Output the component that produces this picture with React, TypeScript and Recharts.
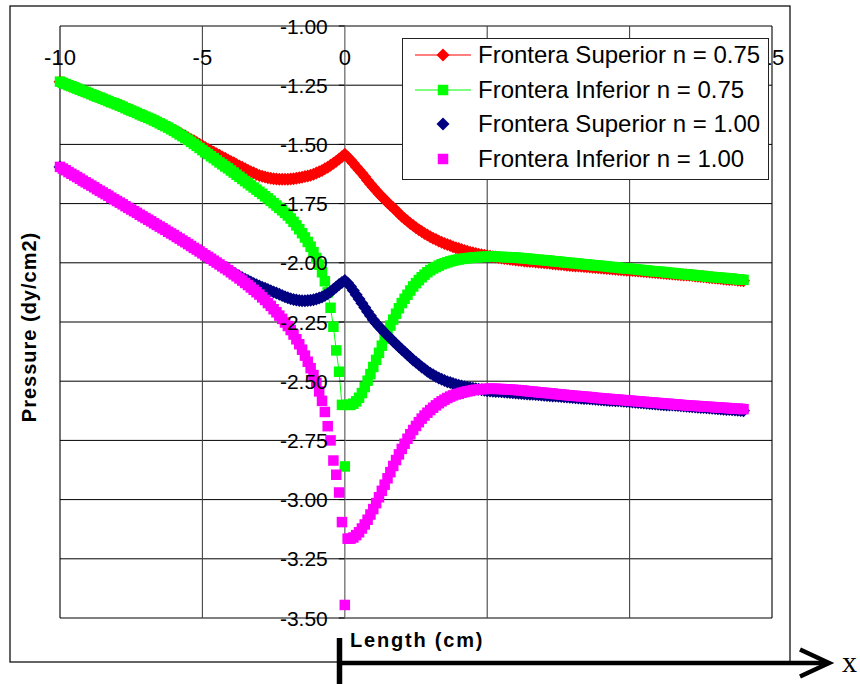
import React from 'react';
import {
  ScatterChart,
  Scatter,
  XAxis,
  YAxis,
  ReferenceLine,
  ReferenceDot,
  Legend,
} from 'recharts';

// Position along the channel (cm), one row per centimetre
const lengthCm = [
  -10, -9.9, -9.8, -9.7, -9.6, -9.5, -9.4, -9.3, -9.2, -9.1,
  -9, -8.9, -8.8, -8.7, -8.6, -8.5, -8.4, -8.3, -8.2, -8.1,
  -8, -7.9, -7.8, -7.7, -7.6, -7.5, -7.4, -7.3, -7.2, -7.1,
  -7, -6.9, -6.8, -6.7, -6.6, -6.5, -6.4, -6.3, -6.2, -6.1,
  -6, -5.9, -5.8, -5.7, -5.6, -5.5, -5.4, -5.3, -5.2, -5.1,
  -5, -4.9, -4.8, -4.7, -4.6, -4.5, -4.4, -4.3, -4.2, -4.1,
  -4, -3.9, -3.8, -3.7, -3.6, -3.5, -3.4, -3.3, -3.2, -3.1,
  -3, -2.9, -2.8, -2.7, -2.6, -2.5, -2.4, -2.3, -2.2, -2.1,
  -2, -1.9, -1.8, -1.7, -1.6, -1.5, -1.4, -1.3, -1.2, -1.1,
  -1, -0.9, -0.8, -0.7, -0.6, -0.5, -0.4, -0.3, -0.2, -0.1,
  0, 0.1, 0.2, 0.3, 0.4, 0.5, 0.6, 0.7, 0.8, 0.9,
  1, 1.1, 1.2, 1.3, 1.4, 1.5, 1.6, 1.7, 1.8, 1.9,
  2, 2.1, 2.2, 2.3, 2.4, 2.5, 2.6, 2.7, 2.8, 2.9,
  3, 3.1, 3.2, 3.3, 3.4, 3.5, 3.6, 3.7, 3.8, 3.9,
  4, 4.1, 4.2, 4.3, 4.4, 4.5, 4.6, 4.7, 4.8, 4.9,
  5, 5.1, 5.2, 5.3, 5.4, 5.5, 5.6, 5.7, 5.8, 5.9,
  6, 6.1, 6.2, 6.3, 6.4, 6.5, 6.6, 6.7, 6.8, 6.9,
  7, 7.1, 7.2, 7.3, 7.4, 7.5, 7.6, 7.7, 7.8, 7.9,
  8, 8.1, 8.2, 8.3, 8.4, 8.5, 8.6, 8.7, 8.8, 8.9,
  9, 9.1, 9.2, 9.3, 9.4, 9.5, 9.6, 9.7, 9.8, 9.9,
  10, 10.1, 10.2, 10.3, 10.4, 10.5, 10.6, 10.7, 10.8, 10.9,
  11, 11.1, 11.2, 11.3, 11.4, 11.5, 11.6, 11.7, 11.8, 11.9,
  12, 12.1, 12.2, 12.3, 12.4, 12.5, 12.6, 12.7, 12.8, 12.9,
  13, 13.1, 13.2, 13.3, 13.4, 13.5, 13.6, 13.7, 13.8, 13.9,
  14,
];

// Pressure (dy/cm2) on the upper boundary, n = 0.75
const superior075 = [
  -1.235, -1.24, -1.245, -1.25, -1.254, -1.259, -1.264, -1.269, -1.274, -1.278,
  -1.283, -1.288, -1.293, -1.298, -1.302, -1.307, -1.312, -1.317, -1.322, -1.326,
  -1.331, -1.336, -1.341, -1.347, -1.352, -1.357, -1.362, -1.367, -1.373, -1.378,
  -1.383, -1.388, -1.393, -1.399, -1.404, -1.41, -1.416, -1.422, -1.428, -1.434,
  -1.44, -1.446, -1.452, -1.459, -1.465, -1.472, -1.479, -1.485, -1.492, -1.499,
  -1.506, -1.513, -1.52, -1.527, -1.533, -1.54, -1.546, -1.553, -1.559, -1.566,
  -1.572, -1.578, -1.585, -1.591, -1.597, -1.603, -1.609, -1.615, -1.62, -1.626,
  -1.631, -1.635, -1.638, -1.641, -1.643, -1.645, -1.646, -1.647, -1.647, -1.647,
  -1.647, -1.646, -1.645, -1.643, -1.641, -1.639, -1.636, -1.633, -1.63, -1.626,
  -1.621, -1.616, -1.61, -1.603, -1.596, -1.588, -1.58, -1.571, -1.562, -1.552,
  -1.542, -1.553, -1.566, -1.58, -1.594, -1.608, -1.622, -1.637, -1.652, -1.667,
  -1.681, -1.695, -1.708, -1.721, -1.733, -1.745, -1.757, -1.768, -1.779, -1.792,
  -1.803, -1.814, -1.824, -1.834, -1.843, -1.852, -1.86, -1.868, -1.876, -1.883,
  -1.89, -1.896, -1.902, -1.908, -1.913, -1.918, -1.923, -1.927, -1.932, -1.936,
  -1.94, -1.944, -1.948, -1.951, -1.955, -1.958, -1.961, -1.964, -1.966, -1.968,
  -1.97, -1.972, -1.974, -1.976, -1.978, -1.98, -1.982, -1.983, -1.985, -1.986,
  -1.988, -1.989, -1.99, -1.992, -1.993, -1.994, -1.995, -1.997, -1.998, -1.999,
  -2.0, -2.001, -2.002, -2.004, -2.005, -2.006, -2.007, -2.008, -2.01, -2.011,
  -2.012, -2.013, -2.014, -2.015, -2.016, -2.017, -2.018, -2.019, -2.02, -2.021,
  -2.022, -2.023, -2.024, -2.025, -2.026, -2.027, -2.028, -2.029, -2.03, -2.031,
  -2.032, -2.033, -2.034, -2.035, -2.036, -2.037, -2.038, -2.039, -2.04, -2.041,
  -2.042, -2.043, -2.044, -2.045, -2.046, -2.047, -2.048, -2.049, -2.05, -2.051,
  -2.052, -2.053, -2.054, -2.056, -2.057, -2.058, -2.059, -2.06, -2.062, -2.063,
  -2.064, -2.065, -2.066, -2.068, -2.069, -2.07, -2.071, -2.072, -2.074, -2.075,
  -2.076,
];

// Pressure (dy/cm2) on the lower boundary, n = 0.75
const inferior075 = [
  -1.235, -1.24, -1.245, -1.25, -1.254, -1.259, -1.264, -1.269, -1.274, -1.278,
  -1.283, -1.288, -1.293, -1.298, -1.302, -1.307, -1.312, -1.317, -1.322, -1.326,
  -1.331, -1.336, -1.341, -1.347, -1.352, -1.357, -1.362, -1.367, -1.373, -1.378,
  -1.383, -1.388, -1.393, -1.399, -1.405, -1.411, -1.417, -1.423, -1.429, -1.436,
  -1.443, -1.45, -1.458, -1.465, -1.473, -1.481, -1.489, -1.498, -1.506, -1.515,
  -1.524, -1.533, -1.541, -1.55, -1.558, -1.567, -1.576, -1.584, -1.593, -1.601,
  -1.61, -1.619, -1.628, -1.637, -1.646, -1.655, -1.664, -1.673, -1.682, -1.691,
  -1.7, -1.709, -1.719, -1.728, -1.738, -1.748, -1.758, -1.768, -1.778, -1.789,
  -1.8, -1.813, -1.827, -1.842, -1.858, -1.875, -1.893, -1.912, -1.932, -1.955,
  -1.98, -2.008, -2.04, -2.078, -2.125, -2.19, -2.27, -2.37, -2.46, -2.6,
  -2.86, -2.6, -2.6, -2.595, -2.585, -2.57, -2.55, -2.525, -2.498, -2.47,
  -2.44, -2.41, -2.38, -2.35, -2.32, -2.292, -2.265, -2.24, -2.215, -2.192,
  -2.17, -2.152, -2.135, -2.117, -2.1, -2.086, -2.073, -2.061, -2.05, -2.04,
  -2.031, -2.024, -2.018, -2.012, -2.006, -2.002, -1.998, -1.994, -1.991, -1.988,
  -1.986, -1.984, -1.982, -1.981, -1.979, -1.978, -1.977, -1.976, -1.975, -1.975,
  -1.974, -1.974, -1.974, -1.974, -1.975, -1.975, -1.976, -1.976, -1.977, -1.977,
  -1.978, -1.979, -1.98, -1.981, -1.982, -1.983, -1.985, -1.986, -1.987, -1.988,
  -1.989, -1.99, -1.991, -1.993, -1.994, -1.995, -1.996, -1.998, -1.999, -2.0,
  -2.001, -2.002, -2.003, -2.005, -2.006, -2.007, -2.008, -2.01, -2.011, -2.012,
  -2.013, -2.014, -2.015, -2.017, -2.018, -2.019, -2.02, -2.022, -2.023, -2.024,
  -2.025, -2.026, -2.027, -2.029, -2.03, -2.031, -2.032, -2.034, -2.035, -2.036,
  -2.037, -2.038, -2.039, -2.041, -2.042, -2.043, -2.044, -2.046, -2.047, -2.048,
  -2.049, -2.05, -2.051, -2.053, -2.054, -2.055, -2.056, -2.058, -2.059, -2.06,
  -2.061, -2.062, -2.063, -2.064, -2.065, -2.066, -2.067, -2.069, -2.07, -2.071,
  -2.072,
];

// Pressure (dy/cm2) on the upper boundary, n = 1.00
const superior100 = [
  -1.595, -1.602, -1.609, -1.617, -1.624, -1.631, -1.638, -1.645, -1.653, -1.66,
  -1.667, -1.674, -1.681, -1.689, -1.696, -1.703, -1.71, -1.717, -1.725, -1.732,
  -1.739, -1.746, -1.753, -1.761, -1.768, -1.775, -1.782, -1.789, -1.797, -1.804,
  -1.811, -1.818, -1.825, -1.833, -1.84, -1.847, -1.854, -1.861, -1.869, -1.876,
  -1.883, -1.891, -1.898, -1.906, -1.913, -1.921, -1.929, -1.937, -1.944, -1.952,
  -1.96, -1.968, -1.976, -1.984, -1.991, -1.999, -2.007, -2.014, -2.022, -2.029,
  -2.036, -2.043, -2.05, -2.057, -2.063, -2.069, -2.075, -2.081, -2.087, -2.093,
  -2.098, -2.103, -2.108, -2.113, -2.118, -2.123, -2.128, -2.133, -2.138, -2.143,
  -2.148, -2.152, -2.155, -2.157, -2.159, -2.16, -2.16, -2.159, -2.158, -2.156,
  -2.153, -2.149, -2.144, -2.138, -2.131, -2.122, -2.112, -2.102, -2.092, -2.083,
  -2.075, -2.085, -2.1, -2.117, -2.135, -2.153, -2.171, -2.189, -2.207, -2.224,
  -2.24, -2.255, -2.269, -2.282, -2.295, -2.307, -2.319, -2.331, -2.343, -2.355,
  -2.366, -2.377, -2.388, -2.399, -2.41, -2.42, -2.43, -2.44, -2.449, -2.458,
  -2.466, -2.473, -2.48, -2.486, -2.492, -2.497, -2.502, -2.506, -2.51, -2.514,
  -2.517, -2.52, -2.523, -2.526, -2.528, -2.53, -2.532, -2.534, -2.536, -2.538,
  -2.54, -2.541, -2.542, -2.543, -2.544, -2.545, -2.546, -2.547, -2.548, -2.549,
  -2.55, -2.551, -2.552, -2.553, -2.554, -2.555, -2.555, -2.556, -2.557, -2.558,
  -2.559, -2.56, -2.561, -2.562, -2.563, -2.564, -2.565, -2.566, -2.567, -2.568,
  -2.569, -2.57, -2.571, -2.572, -2.573, -2.573, -2.574, -2.575, -2.576, -2.577,
  -2.578, -2.579, -2.58, -2.581, -2.582, -2.583, -2.583, -2.584, -2.585, -2.586,
  -2.587, -2.588, -2.589, -2.59, -2.591, -2.592, -2.593, -2.594, -2.595, -2.596,
  -2.597, -2.598, -2.599, -2.6, -2.601, -2.601, -2.602, -2.603, -2.604, -2.605,
  -2.606, -2.607, -2.608, -2.609, -2.61, -2.611, -2.611, -2.612, -2.613, -2.614,
  -2.615, -2.616, -2.617, -2.618, -2.619, -2.62, -2.621, -2.622, -2.623, -2.624,
  -2.625,
];

// Pressure (dy/cm2) on the lower boundary, n = 1.00
const inferior100 = [
  -1.595, -1.602, -1.609, -1.617, -1.624, -1.631, -1.638, -1.645, -1.653, -1.66,
  -1.667, -1.674, -1.681, -1.689, -1.696, -1.703, -1.71, -1.717, -1.725, -1.732,
  -1.739, -1.746, -1.753, -1.761, -1.768, -1.775, -1.782, -1.789, -1.797, -1.804,
  -1.811, -1.818, -1.825, -1.833, -1.84, -1.847, -1.854, -1.861, -1.869, -1.876,
  -1.883, -1.891, -1.898, -1.906, -1.913, -1.921, -1.929, -1.937, -1.944, -1.952,
  -1.96, -1.968, -1.975, -1.983, -1.991, -1.999, -2.007, -2.015, -2.023, -2.031,
  -2.04, -2.049, -2.057, -2.066, -2.075, -2.085, -2.094, -2.104, -2.114, -2.124,
  -2.134, -2.146, -2.157, -2.17, -2.182, -2.196, -2.209, -2.223, -2.237, -2.252,
  -2.267, -2.284, -2.303, -2.323, -2.344, -2.367, -2.392, -2.418, -2.445, -2.474,
  -2.507, -2.543, -2.583, -2.63, -2.69, -2.75, -2.835, -2.895, -2.97, -3.095,
  -3.445, -3.165, -3.165, -3.16, -3.15, -3.138, -3.122, -3.105, -3.085, -3.063,
  -3.04, -3.015, -2.99, -2.963, -2.937, -2.91, -2.884, -2.858, -2.833, -2.809,
  -2.786, -2.764, -2.743, -2.724, -2.706, -2.689, -2.673, -2.658, -2.645, -2.633,
  -2.622, -2.612, -2.602, -2.593, -2.585, -2.578, -2.571, -2.565, -2.56, -2.556,
  -2.553, -2.549, -2.546, -2.543, -2.541, -2.538, -2.536, -2.535, -2.534, -2.533,
  -2.532, -2.532, -2.532, -2.532, -2.533, -2.533, -2.534, -2.535, -2.535, -2.536,
  -2.537, -2.538, -2.539, -2.54, -2.542, -2.543, -2.544, -2.545, -2.547, -2.548,
  -2.549, -2.55, -2.551, -2.552, -2.554, -2.555, -2.556, -2.557, -2.559, -2.56,
  -2.561, -2.562, -2.563, -2.564, -2.565, -2.566, -2.567, -2.568, -2.57, -2.571,
  -2.572, -2.573, -2.574, -2.575, -2.576, -2.577, -2.578, -2.579, -2.58, -2.581,
  -2.582, -2.583, -2.584, -2.585, -2.586, -2.587, -2.588, -2.589, -2.59, -2.591,
  -2.592, -2.593, -2.594, -2.595, -2.596, -2.597, -2.598, -2.599, -2.6, -2.601,
  -2.602, -2.603, -2.604, -2.604, -2.605, -2.606, -2.607, -2.608, -2.608, -2.609,
  -2.61, -2.611, -2.612, -2.612, -2.613, -2.614, -2.615, -2.616, -2.616, -2.617,
  -2.618,
];

const xTicks = [-10, -5, 0, 5, 10, 15];
// Tick labels that stay visible around the legend box
const xTickLabels = [-10, -5, 0, 15];
const yTicks = [-3.5, -3.25, -3, -2.75, -2.5, -2.25, -2, -1.75, -1.5, -1.25, -1];

const FONT = "'Liberation Sans', Arial, Helvetica, sans-serif";

type Marker = 'diamond' | 'square';

interface SeriesDef {
  name: string;
  color: string;
  marker: Marker;
  line: boolean;
  values: number[];
  // x positions plotted as lone markers (the connecting line skips them)
  isolated: number[];
}

const series: SeriesDef[] = [
  { name: 'Frontera Superior n = 0.75', color: '#FF0000', marker: 'diamond', line: true, values: superior075, isolated: [] },
  { name: 'Frontera Inferior n = 0.75', color: '#00FF00', marker: 'square', line: true, values: inferior075, isolated: [0] },
  { name: 'Frontera Superior n = 1.00', color: '#000080', marker: 'diamond', line: false, values: superior100, isolated: [] },
  { name: 'Frontera Inferior n = 1.00', color: '#FF00FF', marker: 'square', line: false, values: inferior100, isolated: [] },
];

type Pt = { x: number; y: number };

const toPoints = (values: number[]): Pt[] =>
  lengthCm
    .map((x, i) => ({ x, y: values[i] }))
    .filter((p) => typeof p.y === 'number');

// Split a series into runs that are joined by a line; isolated x values end a run
const lineRuns = (pts: Pt[], isolated: number[]): Pt[][] => {
  const runs: Pt[][] = [];
  let cur: Pt[] = [];
  pts.forEach((p) => {
    if (isolated.includes(p.x)) {
      if (cur.length) runs.push(cur);
      cur = [];
    } else {
      cur.push(p);
    }
  });
  if (cur.length) runs.push(cur);
  return runs;
};

const MarkShape = ({ cx, cy, marker, color }: { cx: number; cy: number; marker: Marker; color: string }) => {
  if (cx == null || cy == null) return null;
  if (marker === 'diamond') {
    const r = 6.5;
    return (
      <polygon
        points={`${cx},${cy - r} ${cx + r},${cy} ${cx},${cy + r} ${cx - r},${cy}`}
        fill={color}
      />
    );
  }
  const s = 10.5;
  return <rect x={cx - s / 2} y={cy - s / 2} width={s} height={s} fill={color} />;
};

const XTickLabel = ({ cx, cy, value }: { cx: number; cy: number; value: number }) => (
  <text
    x={cx}
    y={cy + 31}
    textAnchor="middle"
    dominantBaseline="central"
    fontFamily={FONT}
    fontSize={22}
    fill="#000"
  >
    {value}
  </text>
);

const YTickMark = ({ cx, cy, value }: { cx: number; cy: number; value: number }) => (
  <g>
    <line x1={cx - 6} x2={cx} y1={cy} y2={cy} stroke="#000" strokeWidth={1} />
    <text
      x={cx - 17}
      y={cy}
      textAnchor="end"
      dominantBaseline="central"
      fontFamily={FONT}
      fontSize={21}
      fill="#000"
    >
      {value.toFixed(2)}
    </text>
  </g>
);

const LegendBox = () => (
  <div
    style={{
      position: 'relative',
      width: 367,
      height: 142,
      boxSizing: 'border-box',
      border: '1px solid #222',
      background: '#fff',
      fontFamily: FONT,
    }}
  >
    {series.map((s, i) => (
      <div
        key={s.name}
        style={{
          position: 'absolute',
          left: 0,
          top: -1 + i * 34.7,
          height: 34,
          display: 'flex',
          alignItems: 'center',
          whiteSpace: 'nowrap',
        }}
      >
        <svg width={75} height={34} style={{ display: 'block' }}>
          {s.line && <line x1={12} x2={68} y1={17} y2={17} stroke={s.color} strokeWidth={1} />}
          <MarkShape cx={40} cy={17} marker={s.marker} color={s.color} />
        </svg>
        <span style={{ fontSize: 24, color: '#000', lineHeight: '34px' }}>{s.name}</span>
      </div>
    ))}
  </div>
);

const noShape = () => null;

export default function App() {
  return (
    <div
      style={{
        position: 'absolute',
        left: 0,
        top: 0,
        width: 860,
        height: 684,
        background: '#fff',
        overflow: 'hidden',
      }}
    >
      <svg width={860} height={684} style={{ position: 'absolute', left: 0, top: 0 }}>
        <rect x={10} y={6} width={780} height={656} fill="none" stroke="#111" strokeWidth={1.3} />
        <text
          transform="translate(29 327) rotate(-90)"
          textAnchor="middle"
          dominantBaseline="central"
          fontFamily={FONT}
          fontWeight="bold"
          fontSize={20}
          letterSpacing={1}
          fill="#000"
        >
          Pressure (dy/cm2)
        </text>
        <text
          x={350}
          y={640}
          dominantBaseline="central"
          fontFamily={FONT}
          fontWeight="bold"
          fontSize={20}
          letterSpacing={1.8}
          fill="#000"
        >
          Length (cm)
        </text>
        <line x1={339} y1={663} x2={826} y2={663} stroke="#000" strokeWidth={4.5} />
        <polyline points="800,649.5 829,663 800,676.5" fill="none" stroke="#000" strokeWidth={4.5} />
        <line x1={339.5} y1={638} x2={339.5} y2={684} stroke="#000" strokeWidth={5.5} />
        <text
          x={849.5}
          y={672}
          textAnchor="middle"
          fontFamily="'Liberation Serif', 'Times New Roman', serif"
          fontSize={30}
          fill="#000"
        >
          x
        </text>
      </svg>

      <div style={{ position: 'absolute', left: 0, top: 0 }}>
        <ScatterChart width={860} height={684} margin={{ top: 26, right: 88, bottom: 66, left: 60 }}>
          <XAxis
            type="number"
            dataKey="x"
            domain={[-10, 15]}
            ticks={xTicks}
            orientation="top"
            height={0}
            axisLine={false}
            tickLine={false}
            tick={false}
          />
          <YAxis
            type="number"
            dataKey="y"
            domain={[-3.5, -1]}
            ticks={yTicks}
            width={0}
            axisLine={false}
            tickLine={false}
            tick={false}
          />
          {/* grid: horizontal lines at every pressure tick, vertical lines at every length tick */}
          {yTicks.map((v) => (
            <ReferenceLine key={`h${v}`} y={v} stroke="#000" strokeWidth={1} />
          ))}
          {xTicks.map((v) => (
            <ReferenceLine
              key={`v${v}`}
              x={v}
              stroke={v === -10 || v === 15 ? '#000' : v === 0 ? '#808080' : '#444'}
              strokeWidth={v === 0 ? 1.5 : 1.1}
            />
          ))}
          {series.map((s) =>
            s.line
              ? lineRuns(toPoints(s.values), s.isolated).map((run, k) => (
                  <Scatter
                    key={`${s.name}-line${k}`}
                    data={run}
                    fill={s.color}
                    legendType="none"
                    isAnimationActive={false}
                    line={{ stroke: s.color, strokeWidth: 1 }}
                    lineType="joint"
                    shape={noShape}
                  />
                ))
              : null
          )}
          {series.map((s) => (
            <Scatter
              key={s.name}
              name={s.name}
              data={toPoints(s.values)}
              fill={s.color}
              isAnimationActive={false}
              shape={(p: any) => <MarkShape cx={p.cx} cy={p.cy} marker={s.marker} color={s.color} />}
            />
          ))}
          {yTicks.map((v) => (
            <ReferenceDot
              key={`yt${v}`}
              x={0}
              y={v}
              r={0}
              ifOverflow="visible"
              shape={(p: any) => <YTickMark cx={p.cx} cy={p.cy} value={v} />}
            />
          ))}
          {xTickLabels.map((v) => (
            <ReferenceDot
              key={`xt${v}`}
              x={v}
              y={-1}
              r={0}
              ifOverflow="visible"
              shape={(p: any) => <XTickLabel cx={p.cx} cy={p.cy} value={v} />}
            />
          ))}
          <Legend
            layout="vertical"
            align="center"
            verticalAlign="middle"
            content={() => <LegendBox />}
            wrapperStyle={{ left: 402, top: 38, width: 367, height: 142, right: 'auto', bottom: 'auto' }}
          />
        </ScatterChart>
      </div>
    </div>
  );
}
